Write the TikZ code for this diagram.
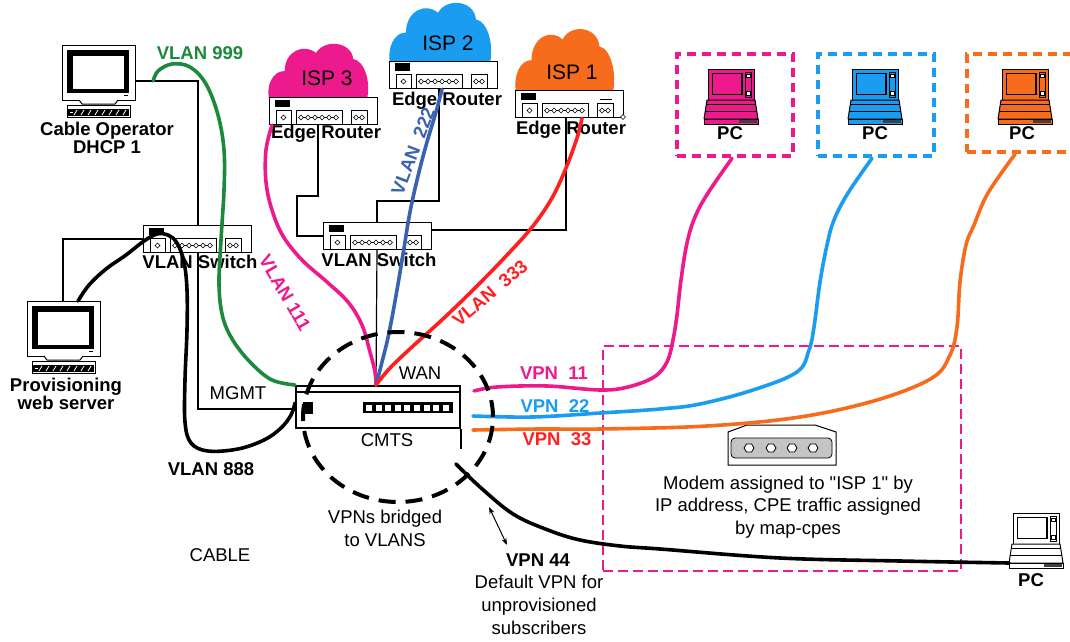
\documentclass[tikz,border=0pt]{standalone}
\usepackage{fontspec}
\setmainfont{Liberation Sans}
\usetikzlibrary{calc,arrows.meta,shapes.geometric}

\definecolor{ispPink}{HTML}{EC1A8C}
\definecolor{ispBlue}{HTML}{1A9CF0}
\definecolor{ispOrange}{HTML}{F76B1C}
\definecolor{vlanGreen}{HTML}{1B8A3C}
\definecolor{vlanNavy}{HTML}{3A62B0}
\definecolor{vlanRed}{HTML}{FF1F1F}
\definecolor{modemGrey}{HTML}{C4C4C4}

\tikzset{
  txt/.style={font=\fontsize{18.5}{22}\selectfont, inner sep=0pt},
  btxt/.style={font=\bfseries\fontsize{18.5}{22}\selectfont, inner sep=0pt},
  isptxt/.style={font=\fontsize{21}{24}\selectfont, inner sep=0pt},
  wire/.style={line width=1.2pt},
  cable/.style={line width=3.6pt, line cap=round, line join=round},
  pcframe/.style={draw=#1, line width=4.5pt, dash pattern=on 9pt off 6pt, inner sep=0pt},
  % router / switch chassis, origin at top-left corner
  pics/netbox/.style={code={
    \node[draw, line width=1.2pt, fill=white, minimum width=108pt, minimum height=27pt,
          inner sep=0pt, anchor=north west] (-box) at (0,0) {};
    \fill (6,2.5) rectangle (21,10);
    \draw[line width=1pt] (7,13) rectangle (22,27) (27,13) rectangle (73,27) (82,13) rectangle (98,27);
    \draw[line width=.6pt] (29.6,20.5) -- (69.4,20.5) (84.6,20.5) -- (95.4,20.5);
    \foreach \d in {14.5,32,39,46,53,60,67,87,93}
      \draw[line width=.6pt, fill=white] (\d-2.4,20.5) -- (\d,18) -- (\d+2.4,20.5) -- (\d,23) -- cycle;
  }},
  % desktop monitor with keyboard, origin at top-left corner
  pics/desktop/.style={code={
    \node[draw, line width=1.2pt, fill=white, minimum width=73pt, minimum height=55pt,
          inner sep=0pt, anchor=north west] (-box) at (0,0) {};
    \fill (5,5) rectangle (67,48);
    \fill[white] (11,11) rectangle (62,44);
    \fill (62,49.5) rectangle (66,51);
    \draw[line width=1pt, fill=white] (17,55) -- (20,59) -- (53,59) -- (56,55);
    \draw[line width=1pt, fill=white] (5,60) rectangle (68,72);
    \fill (6,64) rectangle (67,71);
    \foreach \k in {0,...,7}
      \draw[white, line width=.8pt] (12+7*\k,70) -- (15+7*\k,65);
    \draw[white, line width=.8pt] (8,67) -- (11,67);
  }},
  % laptop, origin at top-left corner of the lid
  pics/laptop/.style={code={
    \draw[line width=1pt, fill=#1] (0,0) rectangle (46,31);
    \draw[line width=1.8pt, fill=#1] (4.5,4.5) rectangle (34,25.5);
    \draw[line width=.8pt] (37.5,3) rectangle (43.5,28);
    \draw[line width=.6pt, fill=white] (38.5,5) rectangle (42.5,8.5) (38.5,22.5) rectangle (42.5,26);
    \draw[line width=1pt, fill=#1, line join=round] (-1,31) -- (47,31) -- (50,50) -- (-4,50) -- cycle;
    \draw[line width=.8pt] (-1.6,35) -- (47.6,35) (-2.7,42) -- (48.7,42);
    \draw[line width=1pt, fill=#1] (-4,50) rectangle (50,55);
    \fill[black!75] (31,51) rectangle (49,54);
    \coordinate (-port) at (-4,50);
  }},
  % ISP cloud, origin at bottom-left
  pics/ispcloud/.style={code={
    \fill[#1] (0,0) .. controls (-3,-14) and (4,-28) .. (16,-28)
      .. controls (16,-48) and (36,-56) .. (48,-46)
      .. controls (56,-60) and (84,-58) .. (86,-40)
      .. controls (98,-38) and (104,-16) .. (100,0) -- cycle;
  }}
}

\begin{document}
\begin{tikzpicture}[x=1pt,y=-1pt]
\fill[white] (0,0) rectangle (1070,642);
\useasboundingbox (0,0) rectangle (1070,642);

% subscriber area
\node[draw=ispPink, line width=2pt, dash pattern=on 10pt off 5pt,
      minimum width=358pt, minimum height=225pt, inner sep=0pt] (cpeZone) at (782,458.5) {};

% ISP clouds
\pic[xscale=.98] at (269,99) {ispcloud=ispPink};
\pic[yscale=1.09] at (390,63) {ispcloud=ispBlue};
\pic[xscale=.97, yscale=1.14] at (516,92) {ispcloud=ispOrange};
\node[isptxt] (isp3) at (327,78) {ISP 3};
\node[isptxt] (isp2) at (448,43) {ISP 2};
\node[isptxt] (isp1) at (572,72) {ISP 1};

% equipment
\pic (dhcp) at (62,45) {desktop};
\pic (prov) at (27,301) {desktop};
\pic (r3) at (269,97) {netbox};
\pic (r2) at (389,61) {netbox};
\pic (r1) at (515,90) {netbox};
\pic (lsw) at (143,225) {netbox};
\pic (msw) at (323,222) {netbox};
\draw[line width=.8pt] (600,99) -- (612,99);
\draw[line width=.6pt, fill=white] (620.5,117) -- (623,114.5) -- (625.5,117) -- (623,119.5) -- cycle;

% CMTS chassis
\node[draw, line width=2pt, fill=white, minimum width=164pt, minimum height=42pt, inner sep=0pt] (cmts) at (378,407) {};
\draw[line width=1.2pt] (297,392) -- (459,392);
\fill (303,402) rectangle (313,414);
\fill (363,402) rectangle (453,413);
\foreach \k in {0,...,8}
  \fill[white] (366+9.6*\k,404.5) rectangle (372+9.6*\k,411);

% named attachment points
\coordinate (dhcpPort) at ($(dhcp-box.north east)+(0,36)$);
\coordinate (greenStart) at ($(dhcpPort)+(17,0)$);
\coordinate (lswTop) at ($(lsw-box.north west)+(55,0)$);
\coordinate (lswLeft) at ($(lsw-box.north west)+(0,14)$);
\coordinate (lswBot) at ($(lsw-box.south west)+(55,0)$);
\coordinate (provTop) at ($(prov-box.north west)+(36,0)$);
\coordinate (provCable) at ($(prov-box.north west)+(51,0)$);
\coordinate (cmtsMgmt) at ($(cmts.south west)+(0,-20)$);
\coordinate (cmtsGreen) at (cmts.north west);
\coordinate (cmtsBlack) at ($(cmts.south west)+(0,-26)$);
\coordinate (cmtsTop) at ($(cmts.north west)+(81,0)$);
\coordinate (mswLeft) at ($(msw-box.north west)+(0,14)$);
\coordinate (mswTop) at ($(msw-box.north west)+(54,0)$);
\coordinate (mswRight) at ($(msw-box.north east)+(0,8)$);
\coordinate (mswBot) at ($(msw-box.south west)+(54,0)$);
\coordinate (r3Bot) at ($(r3-box.south west)+(49,0)$);
\coordinate (r3Vlan) at ($(r3-box.south west)+(3,0)$);
\coordinate (r2Bot) at ($(r2-box.south west)+(50,0)$);
\coordinate (r2Vlan) at ($(r2-box.south west)+(53,0)$);
\coordinate (r1Bot) at ($(r1-box.south west)+(51,0)$);
\coordinate (r1Vlan) at ($(r1-box.south west)+(67,0)$);
\coordinate (vpnA) at ($(cmts.north east)+(13,6)$);
\coordinate (vpnB) at ($(cmts.east)+(12,9)$);
\coordinate (vpnC) at ($(cmts.south east)+(12,1)$);
\coordinate (vpnD) at ($(cmts.south east)+(-5,35)$);

% thin management wiring
\draw[wire] (dhcpPort) -| (lswTop);
\draw[wire] (lswLeft) -| (provTop);
\draw[wire] (lswBot) |- (cmtsMgmt);
\draw[wire] (mswLeft) -- ++(-26,0) -- ++(0,-40) -| (r3Bot);
\draw[wire] (mswTop) -- ++(0,-21) -| (r2Bot);
\draw[wire] (mswRight) -| (r1Bot);
\draw[wire] (mswBot) -- (cmtsTop);
\draw[wire] (cmts.south east) -- ++(0,20);

% modem
\draw[line width=1pt, fill=white] (728,465) -- (728,432) -- (747,425) -- (815,425) -- (836,432) -- (836,465) -- cycle;
\draw[line width=.8pt, fill=modemGrey, rounded corners=4pt] (731,458) rectangle (832,438);
\foreach \h in {749,771,792,813}
  \draw[line width=.8pt, fill=white] (\h-5,448) -- (\h-2.5,444) -- (\h+2.5,444) -- (\h+5,448) -- (\h+2.5,452) -- (\h-2.5,452) -- cycle;

% subscriber PCs
\node[pcframe=ispPink, minimum width=116pt, minimum height=102pt] (pcA) at (735,105) {};
\node[pcframe=ispBlue, minimum width=116pt, minimum height=102pt] (pcB) at (876,105) {};
\node[pcframe=ispOrange, minimum width=116pt, minimum height=98pt] (pcC) at (1025,103) {};
\pic (lapA) at (708,69) {laptop=ispPink};
\pic (lapB) at (852,69) {laptop=ispBlue};
\pic (lapC) at (1002,69) {laptop=ispOrange};
\pic (lap4) at (1013,513) {laptop=white};
\coordinate (pcAport) at ($(pcA.south)+(-3,0)$);
\coordinate (pcBport) at ($(pcB.south)+(-4,0)$);
\coordinate (pcCport) at ($(pcC.south)+(-10,0)$);

% device labels
\node[btxt, align=center, font=\bfseries\fontsize{18.5}{18}\selectfont] (dhcpLbl) at (107,138) {Cable Operator\\DHCP 1};
\node[btxt, align=center, font=\bfseries\fontsize{18.5}{16}\selectfont] (provLbl) at (66,394) {Provisioning\\web server};
\node[btxt] (r3Lbl) at (326,134) {Edge Router};
\node[btxt] (r2Lbl) at (447,101) {Edge Router};
\node[btxt] (r1Lbl) at (571,130) {Edge Router};
\node[btxt] (lswLbl) at (200,262) {VLAN Switch};
\node[btxt] (mswLbl) at (379,260) {VLAN Switch};
\node[btxt] (pcALbl) at (730,133) {PC};
\node[btxt] (pcBLbl) at (875,133) {PC};
\node[btxt] (pcCLbl) at (1022,133) {PC};
\node[btxt] (pc4Lbl) at (1031,580) {PC};
\node[txt] (wanLbl) at (420,373) {WAN};
\node[txt] (cmtsLbl) at (387,440) {CMTS};
\node[txt] (mgmtLbl) at (238,393) {MGMT};
\node[txt] (cableLbl) at (220,555) {CABLE};
\node[txt, align=center, font=\fontsize{18.5}{23}\selectfont] (bridgeLbl) at (385,528) {VPNs bridged\\to VLANS};
\node[txt, align=center, font=\fontsize{18.5}{22.5}\selectfont] (modemLbl) at (788,507) {Modem assigned to \textquotedbl ISP 1\textquotedbl{} by\\IP address, CPE traffic assigned\\by map-cpes};
\node[btxt] (vpn44Lbl) at (538,560) {VPN 44};
\node[txt, align=center, font=\fontsize{18.5}{23}\selectfont] (defLbl) at (539,605) {Default VPN for\\unprovisioned\\subscribers};

% VLAN trunks
\draw[cable, vlanGreen] plot[smooth, tension=.6] coordinates {(greenStart) (158,71) (172,64) (190,67) (206,84) (218,115) (224,150) (224,190) (221,240) (219,285) (223,318) (234,342) (252,364) (272,380) (cmtsGreen)};
\draw[cable, ispPink] plot[smooth, tension=.6] coordinates {(r3Vlan) (266,150) (266,182) (272,210) (283,236) (302,260) (327,282) (348,302) (362,325) (370,352) (375,372) (cmtsTop)};
\draw[cable, vlanNavy] plot[smooth, tension=.6] coordinates {(r2Vlan) (436,112) (427,142) (418,176) (410,212) (404,248) (397,290) (389,333) (382,362) (cmtsTop)};
\draw[cable, vlanRed] plot[smooth, tension=.6] coordinates {(r1Vlan) (577,138) (566,168) (552,198) (533,226) (508,254) (477,286) (444,318) (412,347) (390,368) (cmtsTop)};
\draw[cable, black] plot[smooth, tension=.6] coordinates {(provCable) (89,285) (106,269) (126,255) (144,241) (157,234) (168,235) (177,243) (184,262) (187,290) (187,330) (185,380) (185,422) (191,443) (208,451) (238,449) (264,440) (281,428) (291,415) (cmtsBlack)};

% VPNs towards subscribers
\draw[cable, ispPink] plot[smooth, tension=.6] coordinates {(vpnA) (497,387) (547,386) (600,390) (628,387) (654,377) (667,362) (673,340) (677,315) (681,280) (687,243) (695,217) (708,193) (pcAport)};
\draw[cable, ispBlue] plot[smooth, tension=.6] coordinates {(vpnB) (533,417) (600,413) (660,409) (700,404) (753,390) (797,372) (809,350) (814,327) (820,282) (827,245) (834,220) (848,193) (pcBport)};
\draw[cable, ispOrange] plot[smooth, tension=.6] coordinates {(vpnC) (540,429) (600,429) (707,426) (800,417) (877,400) (932,378) (950,355) (957,327) (960,282) (966,245) (974,225) (988,193) (pcCport)};
\draw[cable, black] plot[smooth, tension=.6] coordinates {(vpnD) (480,487) (513,514) (548,530) (580,540) (620,546) (660,549) (780,558) (900,561) (lap4-port)};

% bridging boundary
\node[draw, ellipse, line width=4pt, dash pattern=on 17pt off 10pt, minimum width=190pt, minimum height=170pt, inner sep=0pt] (bridge) at (398,417) {};
\coordinate (arrA) at (489,507);
\coordinate (arrB) at (507,545);
\draw[{Stealth[length=7pt,width=5pt]}-{Stealth[length=7pt,width=5pt]}, line width=1pt] (arrA) -- (arrB);

% cable labels
\node[btxt, text=vlanGreen] (v999) at (200,53) {VLAN 999};
\node[btxt, text=ispPink, rotate=-60] (v111) at (285,293) {VLAN 111};
\node[btxt, text=vlanNavy, rotate=69] (v222) at (413,151) {VLAN\ \ 222};
\node[btxt, text=vlanRed, rotate=40] (v333) at (490,293) {VLAN\ \ 333};
\node[btxt] (v888) at (211,469) {VLAN 888};
\node[btxt, text=ispPink] (p11) at (554,373) {VPN\ \ 11};
\node[btxt, text=ispBlue] (p22) at (555,406) {VPN\ \ 22};
\node[btxt, text=vlanRed] (p33) at (557,439) {VPN\ \ 33};
\end{tikzpicture}
\end{document}
